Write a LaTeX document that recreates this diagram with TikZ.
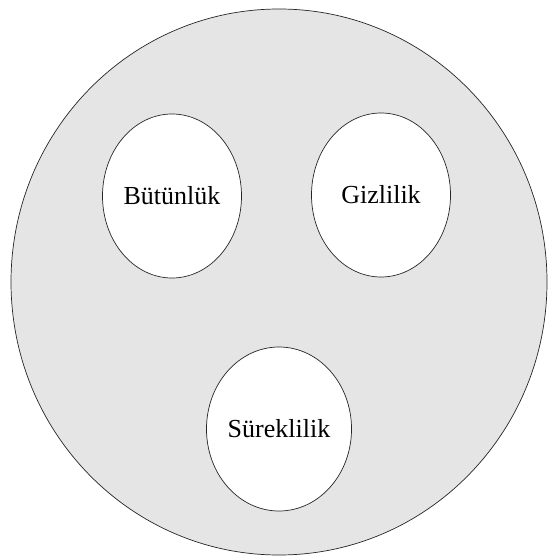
\documentclass[tikz,border=0pt]{standalone}
\usepackage{fontspec}
\setmainfont{Liberation Serif}
\usepackage{tikz}
\usetikzlibrary{shapes.geometric}

\begin{document}
\begin{tikzpicture}[
  x=1pt, y=-1pt,
  font=\fontsize{26}{30}\selectfont,
  outer/.style={draw=black!85, fill=black!10, ellipse, line width=0.7pt, minimum width=536pt, minimum height=546pt, inner sep=0pt},
  part/.style={draw=black!85, fill=white, ellipse, line width=0.7pt, minimum width=139pt, minimum height=164pt, inner sep=0pt},
]
\useasboundingbox (0,0) rectangle (548,556);
% ---- whole
\node[outer] (whole) at (279,282) {};
% ---- parts
\node[part] (btn) at (172,196) {Bütünlük};
\node[part] (gzl) at (381,195) {Gizlilik};
\node[part] (srk) at (279,429) {Süreklilik};
\end{tikzpicture}
\end{document}
